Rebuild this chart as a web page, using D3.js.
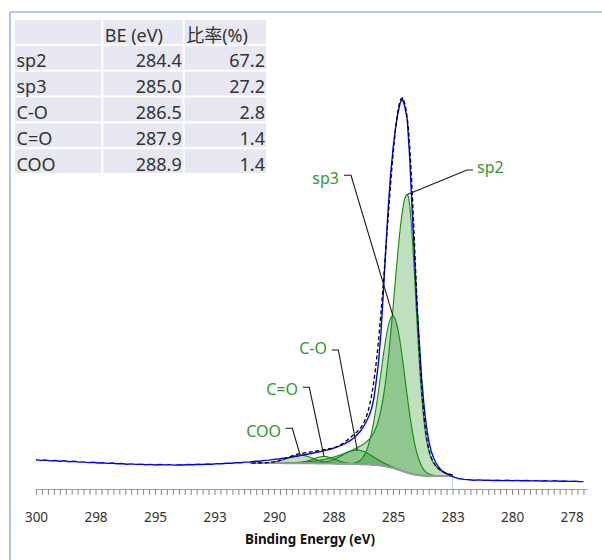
<!DOCTYPE html>
<html><head><meta charset="utf-8">
<script src="https://cdn.jsdelivr.net/npm/d3@7"></script>
<style>
html,body{margin:0;padding:0;background:#fff;}
svg{display:block;}
text{font-family:"Noto Sans","Noto Sans CJK JP",sans-serif;}
</style></head><body>
<svg id="chart" width="602" height="560"></svg>
<script>
// ---------- data ----------
const compNames  = ["sp2", "sp3", "C-O", "C=O", "COO"];
const compBE     = [284.4, 285.0, 286.5, 287.9, 288.9];
const compRatio  = [67.2, 27.2, 2.8, 1.4, 1.4];
// fit parameters
const compHeight       = [278, 152, 14, 7, 8];
const compFwhmHigh     = [1.24, 1.2, 1.5, 1.1, 1.3];  // core width, high-BE side
const compFwhmLow      = [0.82, 1.2, 1.5, 1.1, 1.3];  // core width, low-BE side
const compTailHigh     = [0.13, 0, 0, 0, 0];          // broad tail weight, high-BE side
const compTailHighFwhm = [3.94, 1, 1, 1, 1];
const compTailLow      = [0.13, 0, 0, 0, 0];          // broad tail weight, low-BE side
const compTailLowFwhm  = [1.7, 1, 1, 1, 1];
const fitRange = [291.0, 282.5];
const bgEnds   = [26.9, 14.0];   // background level at high-BE / low-BE end

const tableHeader = ["", "BE (eV)", "比率(%)"];
const majorTicks = [300, 297.5, 295, 292.5, 290, 287.5, 285, 282.5, 280, 277.5];
const tickLabels = ["300","298","295","293","290","288","285","283","280","278"];
const axisTitle = "Binding Energy (eV)";

const spectrumBE = [300.0,299.8,299.6,299.4,299.2,299.0,298.8,298.6,298.4,298.2,298.0,297.8,297.6,297.4,297.2,297.0,296.8,296.6,296.4,296.2,296.0,295.8,295.6,295.4,295.2,295.0,294.8,294.6,294.4,294.2,294.0,293.8,293.6,293.4,293.2,293.0,292.8,292.6,292.4,292.2,292.0,291.8,291.6,291.4,291.2,291.0,290.8,290.6,290.4,290.2,290.0,289.8,289.6,289.4,289.2,289.0,288.8,288.6,288.4,288.2,288.0,287.8,287.6,287.4,287.2,287.0,286.8,286.6,286.4,286.3,286.2,286.1,286.0,285.9,285.8,285.7,285.6,285.5,285.4,285.3,285.2,285.1,285.0,284.9,284.8,284.7,284.6,284.5,284.4,284.3,284.2,284.1,284.0,283.9,283.8,283.7,283.6,283.5,283.4,283.3,283.2,283.1,283.0,282.9,282.8,282.7,282.6,282.5,282.4,282.2,282.0,281.8,281.6,281.4,281.2,281.0,280.8,280.6,280.4,280.2,280.0,279.8,279.6,279.4,279.2,279.0,278.8,278.6,278.4,278.2,278.0,277.8,277.6,277.4,277.2,277.0];
const spectrumCounts = [30.2,29.6,30.0,29.1,29.5,28.7,29.2,28.3,28.8,27.9,28.1,27.4,27.8,27.0,27.3,26.6,27.0,26.2,26.5,25.8,26.1,25.6,25.9,25.2,25.6,25.0,25.5,25.1,25.4,24.9,25.3,25.0,25.5,25.2,25.8,25.5,26.0,25.8,26.4,26.2,26.8,26.7,27.3,27.2,27.9,28.0,28.7,28.8,29.6,29.9,30.6,31.0,31.9,32.2,33.3,33.9,35.0,35.8,36.6,37.8,38.6,39.9,41.0,42.6,44.3,46.6,49.4,53.0,58.0,61.2,65.0,69.5,74.5,81.5,92,110,130,160,200,243,282,316,341,361,376,387,391,383,370,333,282,235,186,150,112,85,64,49,39,32.5,27.5,23.5,20.5,18.3,16.8,15.6,14.6,13.7,12.6,11.2,10.6,10.2,9.8,10.1,9.7,9.9,9.5,9.8,9.4,9.7,9.3,9.6,9.2,9.5,9.1,9.4,9.0,9.3,8.9,9.2,8.8,9.0,8.6,8.9,8.5,8.4];

// ---------- setup ----------
const svg = d3.select("#chart");
const x = d3.scaleLinear().domain([300, 276.85]).range([36, 587]);
const y = d3.scaleLinear().domain([0, 400]).range([490, 90]);

// frame
svg.append("line").attr("x1",10).attr("x2",602).attr("y1",12).attr("y2",12)
  .attr("stroke","#9db5e4").attr("stroke-width",1.6);
svg.append("line").attr("x1",10).attr("x2",10).attr("y1",12).attr("y2",560)
  .attr("stroke","#9db5e4").attr("stroke-width",1.6);

// ---------- model ----------
function gauss(d, fwhm){ const h = fwhm/2; return Math.exp(-Math.LN2*(d/h)*(d/h)); }
function comp(i, E){
  const d = E - compBE[i];
  if (d >= 0) return compHeight[i]*((1-compTailHigh[i])*gauss(d, compFwhmHigh[i]) + compTailHigh[i]*gauss(d, compTailHighFwhm[i]));
  return compHeight[i]*((1-compTailLow[i])*gauss(d, compFwhmLow[i]) + compTailLow[i]*gauss(d, compTailLowFwhm[i]));
}
const step = 0.01;
const nSteps = Math.round((fitRange[0]-fitRange[1])/step);
const grid = d3.range(nSteps+1).map(k => fitRange[1] + k*step);  // low -> high BE
const compVals = compNames.map((_, i) => grid.map(E => comp(i, E)));
const sumVals = grid.map((E, k) => d3.sum(compVals, c => c[k]));
const cum = [0];
for (let k = 1; k < grid.length; k++) cum.push(cum[k-1] + (sumVals[k]+sumVals[k-1])/2*step);
const bgVals = cum.map(c => bgEnds[1] + (bgEnds[0]-bgEnds[1])*c/cum[cum.length-1]);
function bgAt(E){ const k = Math.max(0, Math.min(grid.length-1, Math.round((E-fitRange[1])/step))); return bgVals[k]; }

const plot = svg.append("g");

// component fills
const area = d3.area().x(d => x(d.E)).y0(d => y(d.b)).y1(d => y(d.b + d.v));
const cline = d3.line().x(d => x(d.E)).y(d => y(d.b + d.v));
compNames.forEach((n, i) => {
  const pts = grid.map((E, k) => ({E, b: bgVals[k], v: compVals[i][k]}));
  plot.append("path").datum(pts).attr("d", area)
    .attr("fill", "rgb(0,128,0)").attr("fill-opacity", 0.25);
});
compNames.forEach((n, i) => {
  const pts = grid.map((E, k) => ({E, b: bgVals[k], v: compVals[i][k]}));
  plot.append("path").datum(pts).attr("d", cline)
    .attr("fill", "none").attr("stroke", "#108a10").attr("stroke-width", 1.1);
});

// fit-range end marker
plot.append("line").attr("x1", x(fitRange[1])).attr("x2", x(fitRange[1]))
  .attr("y1", y(bgEnds[1])).attr("y2", 489).attr("stroke", "#b8dcb8").attr("stroke-width", 1);

// background
const bgLine = d3.line().x((d, k) => x(grid[k])).y(d => y(d));
plot.append("path").datum(bgVals).attr("d", bgLine)
  .attr("fill","none").attr("stroke","#9a9a9a").attr("stroke-width",2);

// measured spectrum
const specLine = d3.line().x(d => x(d[0])).y(d => y(d[1]));
plot.append("path").datum(spectrumBE.map((e, i) => [e, spectrumCounts[i]])).attr("d", specLine)
  .attr("fill","none").attr("stroke","#0000ff").attr("stroke-width",1.4);

// envelope
const envLine = d3.line().x((d, k) => x(grid[k])).y(d => y(d));
plot.append("path").datum(grid.map((E, k) => bgVals[k] + sumVals[k])).attr("d", envLine)
  .attr("fill","none").attr("stroke","#000").attr("stroke-width",1.3).attr("stroke-dasharray","4,2.5");

// ---------- labels with leaders ----------
const labelLayout = [
  {anchor:"start", tx:477, ty:172.5, lx1:473, lx2:467, ly:170},
  {anchor:"end",   tx:339, ty:183.5, lx1:344, lx2:351, ly:175.3},
  {anchor:"end",   tx:327, ty:354,   lx1:331.7, lx2:338.3, ly:350},
  {anchor:"end",   tx:298, ty:395,   lx1:302.7, lx2:309.3, ly:387.3},
  {anchor:"end",   tx:281, ty:437.4, lx1:285.7, lx2:292.3, ly:428.3}
];
compNames.forEach((n, i) => {
  const L = labelLayout[i];
  const px = x(compBE[i]), py = y(bgAt(compBE[i]) + compHeight[i]);
  plot.append("path")
    .attr("d", `M${L.lx1},${L.ly}L${L.lx2},${L.ly}L${px},${py}`)
    .attr("fill","none").attr("stroke","#1a1a1a").attr("stroke-width",1.1);
  plot.append("text").attr("x", L.tx).attr("y", L.ty).attr("text-anchor", L.anchor)
    .attr("font-size", 16).attr("fill", "#2f9a2f").text(n);
});

// ---------- axis ----------
const minorTicks = d3.range(0, 93).map(k => 300 - k*0.25);
const axisG = svg.append("g").attr("transform", "translate(0,489)");
axisG.call(d3.axisBottom(x).tickValues(minorTicks).tickSize(6).tickSizeOuter(0).tickFormat(""));
axisG.select(".domain").attr("stroke", "#a0a0a0").attr("stroke-width", 1.2);
axisG.selectAll(".tick line").attr("stroke", "#8a8a8a");
const labG = svg.append("g").attr("transform", "translate(0,489)");
labG.call(d3.axisBottom(x).tickValues(majorTicks).tickSize(0).tickPadding(0)
  .tickFormat((d, i) => tickLabels[i]));
labG.select(".domain").remove();
labG.selectAll(".tick text").attr("y", 33).attr("dy", 0).attr("font-size", 13.5)
  .attr("fill", "#333").attr("font-family", '"Noto Sans", sans-serif');
svg.append("text").attr("x", 310).attr("y", 544).attr("text-anchor", "middle")
  .attr("font-size", 14).attr("font-weight", "bold").attr("fill", "#111")
  .attr("textLength", 130).attr("lengthAdjust", "spacingAndGlyphs").text(axisTitle);

// ---------- table ----------
const colX = [15, 103.3, 184.7, 268];
const rowTop = 20, rowH = 25.83;
const tbl = svg.append("g");
const rows = [tableHeader].concat(compNames.map((n, i) => [n, d3.format(".1f")(compBE[i]), d3.format(".1f")(compRatio[i])]));
rows.forEach((r, ri) => {
  r.forEach((cell, ci) => {
    const x0 = colX[ci], x1 = colX[ci+1];
    tbl.append("rect").attr("x", x0).attr("y", rowTop + ri*rowH)
      .attr("width", x1 - x0 - 2).attr("height", rowH - 2).attr("fill", "#e8e8f3");
    const t = tbl.append("text").attr("y", rowTop + ri*rowH + 21.5)
      .attr("font-size", 18).attr("fill", "#333").text(cell);
    if (ri === 0 || ci === 0) t.attr("x", x0 + 1.5);
    else t.attr("x", x1 - 3).attr("text-anchor", "end");
  });
});
</script>
</body></html>
